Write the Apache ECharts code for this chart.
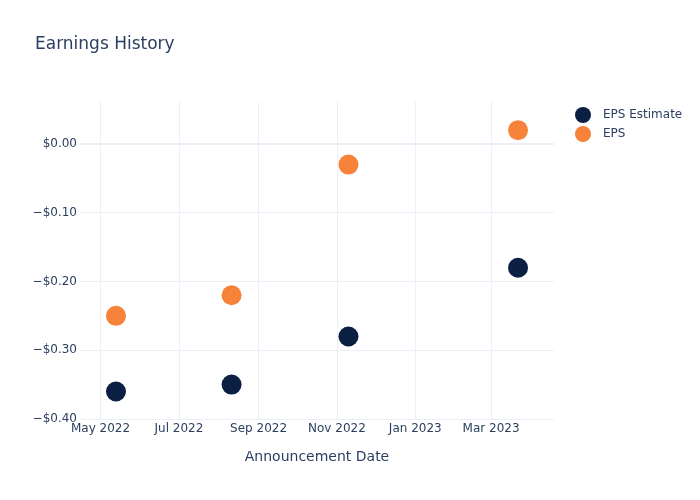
<!DOCTYPE html>
<html>
<head>
<meta charset="utf-8">
<script src="https://cdn.jsdelivr.net/npm/echarts@6/dist/echarts.min.js"></script>
<style>
  html, body { margin: 0; padding: 0; background: #fff; }
  #chart { width: 700px; height: 500px; }
</style>
</head>
<body>
<div id="chart"></div>
<script>
// announcement dates and EPS values
var dates = ['2022-05-13', '2022-08-11', '2022-11-10', '2023-03-22'];
var epsEstimate = [-0.36, -0.35, -0.28, -0.18];
var eps = [-0.25, -0.22, -0.03, 0.02];
var xTicks = ['2022-05-01', '2022-07-01', '2022-09-01', '2022-11-01', '2023-01-01', '2023-03-01'];
var yTicks = [-0.4, -0.3, -0.2, -0.1, 0];
var monthNames = ['Jan', 'Feb', 'Mar', 'Apr', 'May', 'Jun', 'Jul', 'Aug', 'Sep', 'Oct', 'Nov', 'Dec'];

// dates as plain numbers (ms), the x axis is a value axis with custom ticks
function ts(s) {
  var p = s.split('-');
  return Date.UTC(+p[0], +p[1] - 1, +p[2]);
}

var textColor = '#2a3f5f';
var gridColor = '#ebf0f8';
var font = 'DejaVu Sans, Verdana, sans-serif';

var chart = echarts.init(document.getElementById('chart'));
var option = {
  animation: false,
  textStyle: { fontFamily: font },
  title: {
    text: 'Earnings History',
    left: 30,
    top: 31,
    textStyle: { color: textColor, fontSize: 17, fontWeight: 'normal', fontFamily: font }
  },
  legend: {
    orient: 'vertical',
    left: 570,
    top: 102,
    itemWidth: 16,
    itemHeight: 16,
    itemGap: 3,
    icon: 'circle',
    textStyle: { color: textColor, fontSize: 12, fontFamily: font, padding: [0, 0, 0, 7] },
    data: ['EPS Estimate', 'EPS']
  },
  grid: { left: 80, right: 146, top: 102, bottom: 81 },
  xAxis: {
    type: 'value',
    min: ts('2022-04-15'),
    max: ts('2023-04-19'),
    name: 'Announcement Date',
    nameLocation: 'middle',
    nameGap: 31,
    nameTextStyle: { color: textColor, fontSize: 14, fontFamily: font },
    axisLine: { show: false },
    axisTick: { show: false, customValues: xTicks.map(ts) },
    axisLabel: {
      customValues: xTicks.map(ts),
      color: textColor,
      fontSize: 12,
      margin: 4,
      formatter: function (v) {
        var d = new Date(v);
        return monthNames[d.getUTCMonth()] + ' ' + d.getUTCFullYear();
      }
    },
    splitLine: { show: true, lineStyle: { color: gridColor, width: 1 } }
  },
  yAxis: {
    type: 'value',
    min: -0.4,
    max: 0.061,
    axisLine: { show: false },
    axisTick: { show: false, customValues: yTicks },
    axisLabel: {
      customValues: yTicks,
      color: textColor,
      fontSize: 12,
      margin: 3,
      formatter: function (v) {
        var s = '$' + Math.abs(v).toFixed(2);
        return v < -1e-9 ? '\u2212' + s : s;
      }
    },
    splitLine: { show: true, lineStyle: { color: gridColor, width: 1 } }
  },
  series: [
    {
      name: 'EPS Estimate',
      type: 'scatter',
      symbolSize: 20,
      itemStyle: { color: '#0b1f42', opacity: 1 },
      data: dates.map(function (d, i) { return [ts(d), epsEstimate[i]]; }),
      markLine: {
        silent: true,
        symbol: 'none',
        label: { show: false },
        lineStyle: { color: gridColor, width: 2, type: 'solid' },
        data: [{ yAxis: 0 }]
      }
    },
    {
      name: 'EPS',
      type: 'scatter',
      symbolSize: 20,
      itemStyle: { color: '#f7823a', opacity: 1 },
      data: dates.map(function (d, i) { return [ts(d), eps[i]]; })
    }
  ]
};
chart.setOption(option);
</script>
</body>
</html>
